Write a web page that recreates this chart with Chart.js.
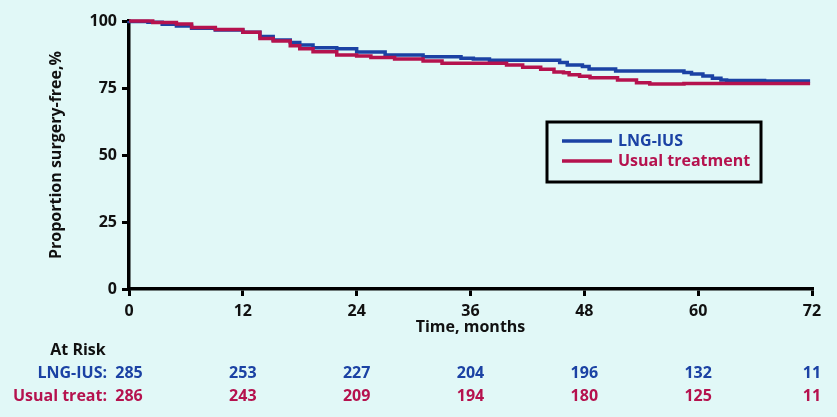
<!DOCTYPE html>
<html>
<head>
<meta charset="utf-8">
<script src="https://cdn.jsdelivr.net/npm/chart.js@4.4.0/dist/chart.umd.min.js"></script>
<style>
  html, body { margin: 0; padding: 0; background: #e1f8f7; }
  #wrap { width: 837px; height: 417px; position: relative; }
</style>
</head>
<body>
<div id="wrap"><canvas id="kmChart"></canvas></div>
<script>
// Kaplan-Meier curves (months, % surgery-free)
const lngTimes  = [0, 2, 3.5, 5, 6.6, 9.1, 12, 13.8, 15.2, 17, 18, 19.4, 21.9, 24, 27, 31, 35, 36.3, 38, 40.5, 45.4, 46.2, 47.8, 48.5, 51.3, 53.2, 58.5, 59.3, 60.5, 61.5, 62.4, 63, 67, 71.8];
const lngValues = [100, 99.8, 99.5, 98.8, 98.1, 97.3, 96.6, 95.8, 94.2, 92.9, 92.0, 91.0, 90.0, 89.6, 88.4, 87.3, 86.7, 86.1, 85.8, 85.4, 85.4, 84.5, 83.6, 83.0, 82.1, 81.3, 81.3, 80.8, 80.2, 79.5, 78.6, 78.0, 77.8, 77.6];

const usualTimes  = [0, 2.5, 5, 6.6, 9.1, 12, 13.8, 15.2, 17, 18, 19.4, 21.9, 24, 25.5, 28, 31, 33, 39.8, 41.5, 43.4, 44.8, 45.8, 46.4, 47.5, 48.6, 51.5, 53.5, 54.9, 58.5, 63, 71.8];
const usualValues = [100, 100, 99.4, 98.9, 97.6, 96.8, 95.8, 93.5, 92.5, 90.8, 89.6, 88.5, 87.3, 86.9, 86.4, 85.8, 85.1, 84.2, 83.6, 82.7, 82.0, 81.0, 80.7, 79.9, 79.4, 78.8, 78.0, 77.0, 76.5, 76.7, 76.7];

const seriesNames = ['LNG-IUS', 'Usual treatment'];
const xTicks = [0, 12, 24, 36, 48, 60, 72];
const yTicks = [0, 25, 50, 75, 100];

// numbers at risk under each x tick
const riskLabels = ['LNG-IUS:', 'Usual treat:'];
const lngAtRisk   = [285, 253, 227, 204, 196, 132, 11];
const usualAtRisk = [286, 243, 209, 194, 180, 125, 11];

const BLUE = '#1b42a4';
const RED = '#b5124e';
const FONT = '"Open Sans", Roboto, sans-serif';

function toPoints(times, values) {
  return times.map((t, i) => ({ x: t, y: values[i] }));
}

const extras = {
  id: 'extras',
  afterDraw(chart) {
    const ctx = chart.ctx;
    const xs = chart.scales.x;
    const area = chart.chartArea;
    ctx.save();

    // legend box
    const bx = area.right - 265, by = area.top + 101, bw = 214, bh = 60;
    ctx.strokeStyle = '#000';
    ctx.lineWidth = 3;
    ctx.strokeRect(bx, by, bw, bh);
    const colors = [BLUE, RED];
    ctx.font = 'bold 16px ' + FONT;
    ctx.textBaseline = 'middle';
    ctx.textAlign = 'left';
    seriesNames.forEach((name, i) => {
      const ly = by + 19 + i * 20;
      ctx.strokeStyle = colors[i];
      ctx.lineWidth = 3.5;
      ctx.beginPath();
      ctx.moveTo(bx + 15, ly);
      ctx.lineTo(bx + 65, ly);
      ctx.stroke();
      ctx.fillStyle = colors[i];
      ctx.fillText(name, bx + 71, ly);
    });

    // at-risk table
    ctx.font = 'bold 16px ' + FONT;
    ctx.fillStyle = '#111';
    ctx.textAlign = 'center';
    ctx.fillText('At Risk', 78, 350);
    const rows = [lngAtRisk, usualAtRisk];
    rows.forEach((row, r) => {
      const y = 373 + r * 23;
      ctx.fillStyle = colors[r];
      ctx.textAlign = 'right';
      ctx.fillText(riskLabels[r], 107, y);
      ctx.textAlign = 'center';
      row.forEach((n, i) => {
        ctx.fillText(String(n), xs.getPixelForValue(xTicks[i]), y);
      });
    });
    ctx.restore();
  }
};

new Chart(document.getElementById('kmChart'), {
  type: 'line',
  data: {
    datasets: [
      {
        label: seriesNames[0],
        data: toPoints(lngTimes, lngValues),
        borderColor: BLUE,
        borderWidth: 3.5,
        pointRadius: 0,
        stepped: 'after',
        fill: false,
        clip: false,
        order: 1
      },
      {
        label: seriesNames[1],
        data: toPoints(usualTimes, usualValues),
        borderColor: RED,
        borderWidth: 3.5,
        pointRadius: 0,
        stepped: 'after',
        fill: false,
        clip: false,
        order: 0
      }
    ]
  },
  options: {
    responsive: true,
    maintainAspectRatio: false,
    animation: false,
    layout: { padding: { left: 47, top: 21, right: 25, bottom: 80 } },
    plugins: {
      legend: { display: false },
      tooltip: { enabled: false }
    },
    scales: {
      x: {
        type: 'linear',
        min: 0,
        max: 72,
        afterBuildTicks(scale) { scale.ticks = xTicks.map(v => ({ value: v })); },
        afterFit(scale) { scale.height = 48; },
        border: { color: '#000', width: 3.5 },
        grid: { drawOnChartArea: false, drawTicks: true, tickLength: 7, color: '#000', lineWidth: 3 },
        ticks: { color: '#111', padding: 6, maxRotation: 0, font: { family: FONT, size: 16, weight: 'bold' } },
        title: {
          display: true,
          text: 'Time, months',
          color: '#111',
          padding: 0,
          font: { family: FONT, size: 16, weight: 'bold' }
        }
      },
      y: {
        min: 0,
        max: 100,
        afterBuildTicks(scale) { scale.ticks = yTicks.map(v => ({ value: v })); },
        afterFit(scale) { scale.width = 82; },
        border: { color: '#000', width: 3.5 },
        grid: { drawOnChartArea: false, drawTicks: true, tickLength: 7, color: '#000', lineWidth: 3 },
        ticks: { color: '#111', padding: 5, font: { family: FONT, size: 16, weight: 'bold' } },
        title: {
          display: true,
          text: 'Proportion surgery-free,%',
          color: '#111',
          padding: 0,
          font: { family: FONT, size: 16, weight: 'bold' }
        }
      }
    }
  },
  plugins: [extras]
});
</script>
</body>
</html>
